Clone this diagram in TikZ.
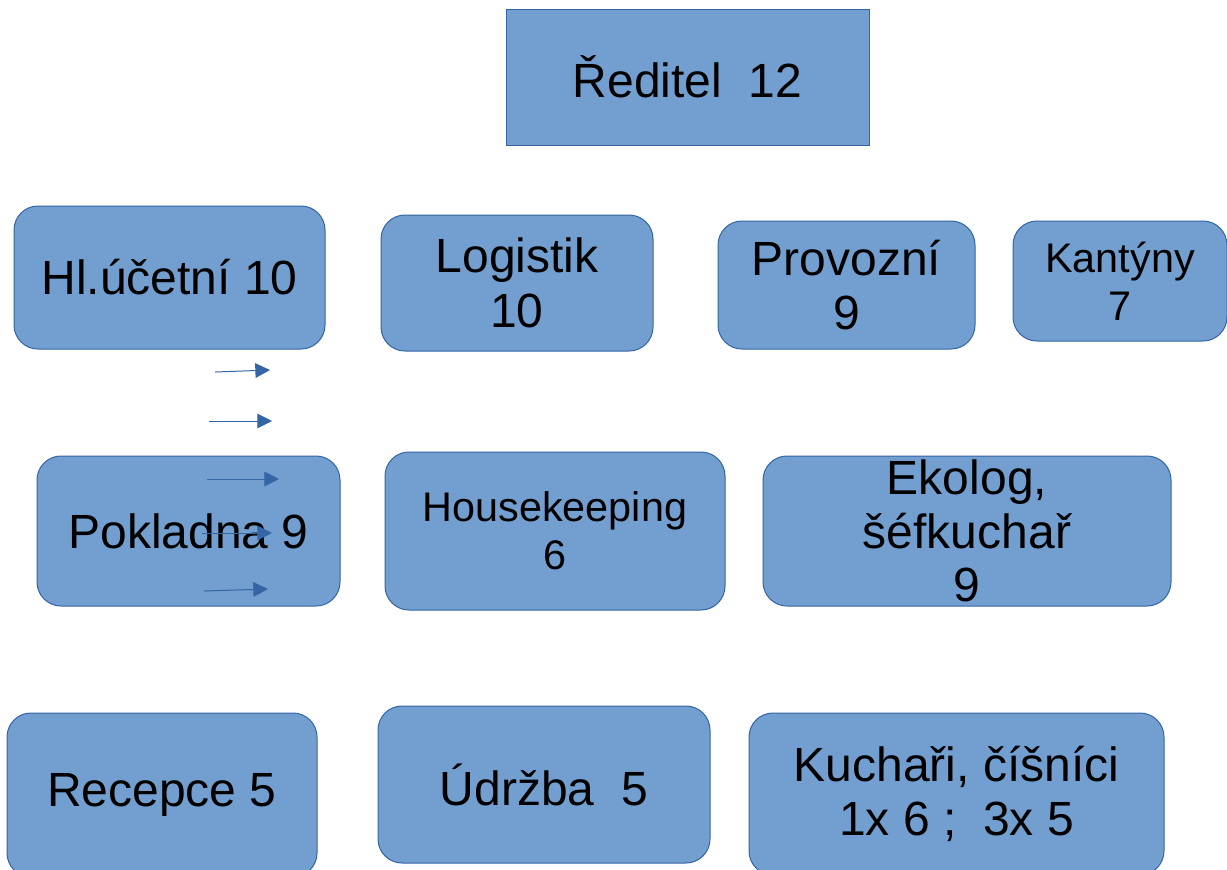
\documentclass[tikz,border=0pt]{standalone}
\usepackage{fontspec}
\setmainfont{Liberation Sans}
\usetikzlibrary{arrows.meta}
\definecolor{boxblue}{HTML}{729FCF}
\definecolor{lineblue}{HTML}{3465A4}
\tikzset{
	boxstyle/.style={rectangle,draw=lineblue,line width=0.75pt,fill=boxblue,align=center,inner sep=0pt},
	roundstyle/.style={boxstyle,rounded corners=18pt},
	bigtext/.style={font=\fontsize{36}{41}\selectfont},
	smalltext/.style={font=\fontsize{31}{36}\selectfont},
	arrowstyle/.style={draw=lineblue,line width=0.75pt,-{Triangle[length=11pt,width=11pt]}}
}

\begin{document}
\begin{tikzpicture}[x=0.75pt,y=-0.75pt]
	\clip (0,0) rectangle (1227,869);
	\fill[white] (0,0) rectangle (1227,869);
	\node[boxstyle,bigtext,minimum width=272.25pt,minimum height=102pt] (reditel) at (687.5,77) {Ředitel\ \ 12};
	\node[roundstyle,bigtext,minimum width=233.25pt,minimum height=107.25pt] (ucetni) at (169.5,277.5) {Hl.účetní 10};
	\node[roundstyle,bigtext,minimum width=204pt,minimum height=102pt] (logistik) at (517,283) {Logistik\\10};
	\node[roundstyle,bigtext,minimum width=192.75pt,minimum height=96pt] (provozni) at (846.5,285) {Provozní\\9};
	\node[roundstyle,smalltext,minimum width=160.5pt,minimum height=90pt] (kantyny) at (1120,281) {Kantýny\\7};
	\node[roundstyle,bigtext,minimum width=227.25pt,minimum height=112.5pt] (pokladna) at (188.5,531) {Pokladna 9};
	\node[roundstyle,smalltext,minimum width=255pt,minimum height=118.5pt] (housekeeping) at (555,531) {Housekeeping\\6};
	\node[roundstyle,font=\fontsize{36}{40}\selectfont,inner ysep=-8pt,minimum width=306pt,minimum height=112.5pt] (ekolog) at (967,531) {Ekolog,\\šéfkuchař\\9};
	\node[roundstyle,bigtext,minimum width=232.5pt,minimum height=123pt] (recepce) at (162,795) {Recepce 5};
	\node[roundstyle,bigtext,minimum width=249pt,minimum height=117.75pt] (udrzba) at (544,784.5) {Údržba\ \ 5};
	\node[roundstyle,bigtext,minimum width=311.25pt,minimum height=121.5pt] (kuchari) at (956.5,794) {Kuchaři, číšníci\\1x 6 ;\ \ 3x 5};
	% loose arrows
	\coordinate (a1) at (215,372);
	\coordinate (b1) at (270,370);
	\draw[arrowstyle] (a1)--(b1);
	\coordinate (a2) at (209,421);
	\coordinate (b2) at (272,421);
	\draw[arrowstyle] (a2)--(b2);
	\coordinate (a3) at (207,479);
	\coordinate (b3) at (279,479);
	\draw[arrowstyle] (a3)--(b3);
	\coordinate (a4) at (202,533);
	\coordinate (b4) at (272,533);
	\draw[arrowstyle] (a4)--(b4);
	\coordinate (a5) at (204,591);
	\coordinate (b5) at (268,589);
	\draw[arrowstyle] (a5)--(b5);
\end{tikzpicture}
\end{document}
